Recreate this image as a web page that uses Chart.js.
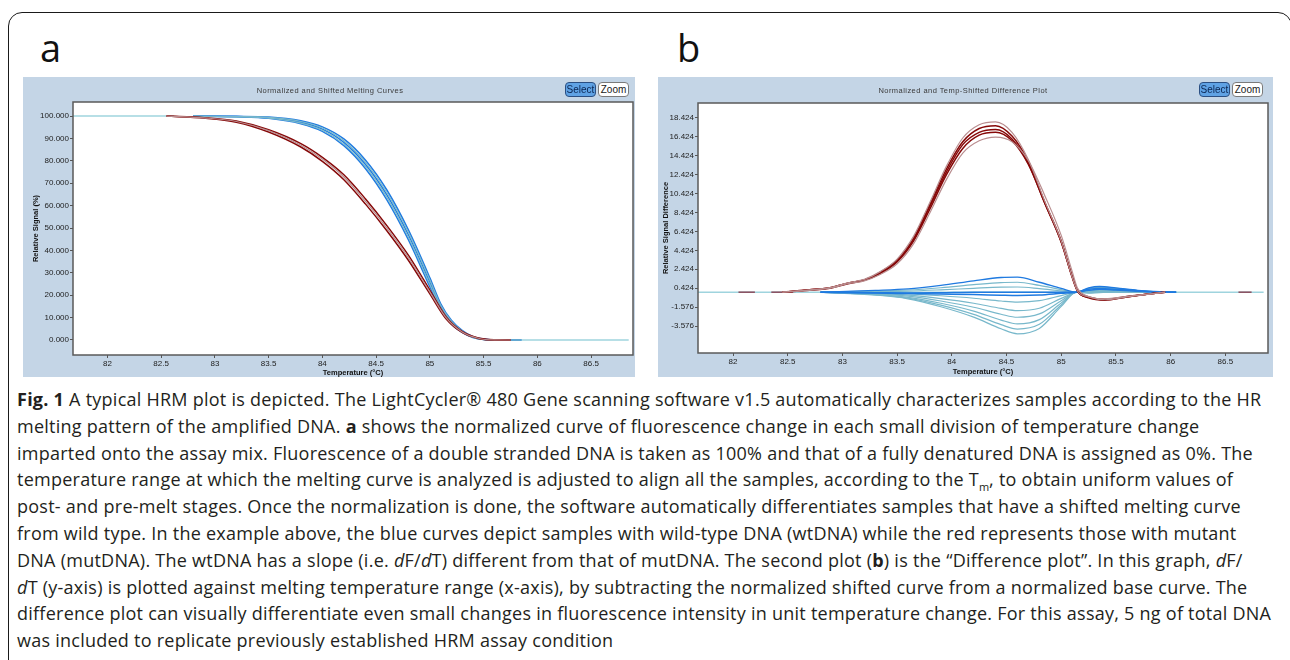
<!DOCTYPE html>
<html>
<head>
<meta charset="utf-8">
<title>HRM melting curves</title>
<script src="https://cdn.jsdelivr.net/npm/chart.js"></script>
<style>
  html, body { margin: 0; padding: 0; background: #fff; }
  body { width: 1290px; height: 660px; position: relative; overflow: hidden; font-family: "Open Sans", "Noto Sans", sans-serif; color: #231f20; }
  .frame { position: absolute; left: 8px; top: 12px; width: 1284px; height: 700px; box-sizing: border-box; border: 1.5px solid #1a1a1a; border-radius: 14px; }
  .letter { position: absolute; top: 28px; font-size: 38px; line-height: 38px; font-weight: 400; color: #111; }
  .panel { position: absolute; top: 77px; height: 300px; background: #c4d5e6; }
  .panel canvas { position: absolute; left: 0; top: 0; }
  .ptitle { position: absolute; top: 86px; font-family: "Liberation Sans", Arial, sans-serif; font-size: 7.5px; letter-spacing: 0.45px; color: #3a3a3a; white-space: nowrap; transform: translateX(-50%); }
  .btn { position: absolute; top: 82px; height: 15px; width: 31px; box-sizing: border-box; border-radius: 4px; font-family: "Liberation Sans", Arial, sans-serif; font-size: 10px; line-height: 13px; text-align: center; }
  .btn.sel { background: #5fa2e4; border: 1px solid #2b4f82; color: #0b2652; }
  .btn.zm { background: #fff; border: 1px solid #7a7a7a; color: #1a1a1a; }
  .caption { position: absolute; left: 17px; top: 386px; font-size: 18px; letter-spacing: 0.25px; line-height: 26.8px; white-space: nowrap; }
  .caption i { font-style: italic; }
  .caption sub { font-size: 11px; line-height: 0; letter-spacing: 0; }
</style>
</head>
<body>
<div class="frame"></div>

<div class="letter" style="left:40px">a</div>
<div class="letter" style="left:677px">b</div>

<div class="panel" style="left:23px; width:612px;"><canvas id="meltChart" width="612" height="300"></canvas></div>
<div class="ptitle" style="left:330px">Normalized and Shifted Melting Curves</div>
<div class="btn sel" style="left:565px">Select</div>
<div class="btn zm" style="left:598px">Zoom</div>

<div class="panel" style="left:658px; width:615px;"><canvas id="diffChart" width="615" height="300"></canvas></div>
<div class="ptitle" style="left:963px">Normalized and Temp-Shifted Difference Plot</div>
<div class="btn sel" style="left:1199px">Select</div>
<div class="btn zm" style="left:1232px">Zoom</div>

<div class="caption">
  <div><b>Fig. 1</b> A typical HRM plot is depicted. The LightCycler® 480 Gene scanning software v1.5 automatically characterizes samples according to the HR</div>
  <div>melting pattern of the amplified DNA. <b>a</b> shows the normalized curve of fluorescence change in each small division of temperature change</div>
  <div>imparted onto the assay mix. Fluorescence of a double stranded DNA is taken as 100% and that of a fully denatured DNA is assigned as 0%. The</div>
  <div>temperature range at which the melting curve is analyzed is adjusted to align all the samples, according to the T<sub>m</sub>, to obtain uniform values of</div>
  <div>post- and pre-melt stages. Once the normalization is done, the software automatically differentiates samples that have a shifted melting curve</div>
  <div>from wild type. In the example above, the blue curves depict samples with wild-type DNA (wtDNA) while the red represents those with mutant</div>
  <div>DNA (mutDNA). The wtDNA has a slope (i.e. <i>d</i>F/<i>d</i>T) different from that of mutDNA. The second plot (<b>b</b>) is the “Difference plot”. In this graph, <i>d</i>F/</div>
  <div><i>d</i>T (y-axis) is plotted against melting temperature range (x-axis), by subtracting the normalized shifted curve from a normalized base curve. The</div>
  <div>difference plot can visually differentiate even small changes in fluorescence intensity in unit temperature change. For this assay, 5 ng of total DNA</div>
  <div>was included to replicate previously established HRM assay condition</div>
</div>

<script>
// axis ticks
const tempTicks = [82, 82.5, 83, 83.5, 84, 84.5, 85, 85.5, 86, 86.5];
const signalTicks = [0, 10, 20, 30, 40, 50, 60, 70, 80, 90, 100];
const diffTicks = [-3.576, -1.576, 0.424, 2.424, 4.424, 6.424, 8.424, 10.424, 12.424, 14.424, 16.424, 18.424];

// --- normalized melting curves (relative signal, %) ---
const meltTempRed = [82.55, 82.9, 83.2, 83.5, 83.8, 84.0, 84.2, 84.4, 84.6, 84.8, 85.0, 85.15, 85.3, 85.45, 85.6, 85.75];
const meltRed1 = [100, 99.1, 97.3, 92.9, 86.2, 79.8, 71.6, 60.8, 48.8, 35.6, 20.6, 9.5, 3.4, 0.7, 0, 0];
const meltRed2 = [100, 99.3, 97.8, 93.9, 87.7, 81.6, 73.8, 63.1, 51.1, 37.9, 22.3, 10.4, 3.8, 0.9, 0.1, 0];
const meltRed3 = [100, 99.2, 97.6, 93.5, 87.0, 80.8, 72.8, 62.0, 50.0, 36.8, 21.5, 10.0, 3.6, 0.8, 0.05, 0];

const meltTempBlue = [82.8, 83.2, 83.5, 83.8, 84.0, 84.2, 84.4, 84.6, 84.8, 85.0, 85.1, 85.2, 85.3, 85.4, 85.5, 85.65, 85.85];
const meltBlue1 = [100, 99.7, 99.0, 96.6, 93.2, 86.8, 76.6, 62.6, 44.8, 23.8, 13.6, 7.2, 3.4, 1.1, 0.2, 0, 0];
const meltBlue2 = [100, 99.8, 99.3, 97.3, 94.2, 88.3, 78.5, 64.8, 47.0, 25.8, 15.0, 8.0, 3.8, 1.3, 0.3, 0, 0];
const meltBlue3 = [100, 99.9, 99.6, 97.9, 95.2, 89.8, 80.4, 67.0, 49.2, 27.8, 16.3, 8.8, 4.3, 1.5, 0.4, 0, 0];
const meltBlue4 = [100, 99.8, 99.4, 97.6, 94.7, 89.0, 79.4, 65.9, 48.1, 26.8, 15.6, 8.4, 4.0, 1.4, 0.3, 0, 0];
const meltBlue5 = [100, 99.7, 99.1, 96.9, 93.7, 87.5, 77.5, 63.7, 45.9, 24.8, 14.3, 7.6, 3.6, 1.2, 0.2, 0, 0];

const meltBaseHighT = [81.68, 82.62];
const meltBaseHigh = [100, 100];
const meltBaseLowT = [85.6, 86.85];
const meltBaseLow = [0, 0];

// --- difference plot (relative signal difference) ---
const diffTempRed = [82.45, 82.7, 82.9, 83.05, 83.2, 83.35, 83.5, 83.65, 83.8, 83.95, 84.1, 84.25, 84.4, 84.55, 84.7, 84.85, 85.0, 85.1, 85.15, 85.25, 85.4, 85.6, 85.8, 85.95];
const diffRed1 = [0, 0.25, 0.5, 1.0, 1.35, 2.2, 3.5, 5.9, 9.5, 13.3, 16.3, 17.7, 18.0, 16.9, 14.0, 9.6, 5.4, 1.6, 0.1, -0.5, -0.8, -0.5, -0.2, 0];
const diffRed2 = [0, 0.25, 0.5, 0.95, 1.3, 2.15, 3.4, 5.7, 9.3, 13.0, 15.9, 17.3, 17.6, 16.5, 13.8, 9.5, 5.4, 1.6, 0.1, -0.55, -0.8, -0.5, -0.2, 0];
const diffRed3 = [0, 0.25, 0.5, 0.95, 1.3, 2.1, 3.3, 5.6, 9.1, 12.7, 15.6, 16.9, 17.2, 16.2, 13.6, 9.4, 5.3, 1.6, 0.1, -0.5, -0.75, -0.45, -0.2, 0];
const diffRed4 = [0, 0.2, 0.45, 0.9, 1.25, 2.0, 3.2, 5.4, 8.8, 12.4, 15.2, 16.6, 16.9, 16.0, 13.5, 9.4, 5.3, 1.7, 0.15, -0.6, -0.85, -0.5, -0.2, 0];
const diffRed5 = [0, 0.2, 0.45, 0.9, 1.2, 1.9, 3.0, 5.1, 8.4, 11.9, 14.7, 16.0, 16.4, 15.9, 13.9, 10.2, 6.0, 2.2, 0.4, -0.45, -0.7, -0.45, -0.2, 0];

const diffTempBlue = [82.8, 83.3, 83.6, 83.9, 84.2, 84.45, 84.6, 84.8, 85.0, 85.14, 85.25, 85.35, 85.5, 85.7, 85.9, 86.05];
const diffBlue1 = [0, 0.19, 0.35, 0.72, 1.2, 1.55, 1.6, 1.05, 0.4, 0, 0.45, 0.6, 0.45, 0.2, 0.05, 0];
const diffBlue2 = [0, 0.13, 0.23, 0.47, 0.79, 1.02, 1.05, 0.72, 0.27, 0, 0.4, 0.55, 0.4, 0.18, 0.05, 0];
const diffBlue3 = [0, 0.07, 0.12, 0.25, 0.41, 0.53, 0.55, 0.38, 0.14, 0, 0.35, 0.5, 0.38, 0.15, 0.04, 0];
const diffBlue4 = [0, -0.05, -0.08, -0.05, 0, 0, 0, 0, 0, 0, 0.3, 0.4, 0.3, 0.12, 0.03, 0];
const diffBlue5 = [0, -0.1, -0.15, -0.2, -0.25, -0.32, -0.35, -0.3, -0.12, 0, 0.2, 0.3, 0.22, 0.1, 0.02, 0];
const diffBlue6 = [0, -0.1, -0.18, -0.38, -0.64, -0.93, -1.05, -0.9, -0.36, 0, 0.15, 0.22, 0.18, 0.08, 0.02, 0];
const diffBlue7 = [0, -0.14, -0.31, -0.68, -1.17, -1.72, -1.95, -1.7, -0.66, 0, 0.1, 0.15, 0.12, 0.05, 0.01, 0];
const diffBlue8 = [0, -0.19, -0.42, -0.93, -1.59, -2.33, -2.65, -2.3, -0.9, 0, 0.05, 0.1, 0.08, 0.04, 0, 0];
const diffBlue9 = [0, -0.23, -0.54, -1.17, -2.0, -2.95, -3.35, -2.9, -1.15, 0, 0, 0.05, 0.05, 0.02, 0, 0];
const diffBlue10 = [0, -0.27, -0.62, -1.36, -2.34, -3.43, -3.9, -3.4, -1.35, 0, -0.05, 0, 0.02, 0.01, 0, 0];
const diffBlue11 = [0, -0.31, -0.7, -1.54, -2.64, -3.87, -4.4, -3.83, -1.5, 0, -0.1, -0.05, 0, 0, 0, 0];

const diffBaseT = [81.68, 86.85];
const diffBase = [0, 0];
// short sample stubs lying on the base line
const stubT1 = [82.05, 82.2];
const stubT2 = [82.35, 82.55];
const stubT3 = [86.62, 86.74];
const stubY = [0, 0];

const DARK_RED = '#860808';
const ROSE = '#b98d8f';
const BLUE = '#1f7ae0';
const TEAL = '#78b8cb';
const CYAN = '#9fd4de';
const tickFont = { family: '"Liberation Sans", Arial, sans-serif', size: 8 };
const titleFont = { family: '"Liberation Sans", Arial, sans-serif', size: 7.5, weight: 'bold' };

function pts(xs, ys) {
  return xs.map((x, i) => ({ x: x, y: ys[i] }));
}

function curve(xs, ys, color, width) {
  return {
    data: pts(xs, ys),
    borderColor: color,
    borderWidth: width || 1.3,
    pointRadius: 0,
    fill: false,
    cubicInterpolationMode: 'monotone',
  };
}

// white plot area and the dark frame round it
const plotFrame = {
  id: 'plotFrame',
  beforeDraw(chart) {
    const { ctx, chartArea: a } = chart;
    ctx.save();
    ctx.fillStyle = '#fff';
    ctx.fillRect(a.left, a.top, a.right - a.left, a.bottom - a.top);
    ctx.restore();
  },
  afterDraw(chart) {
    const { ctx, chartArea: a } = chart;
    ctx.save();
    ctx.strokeStyle = '#5a5a5a';
    ctx.lineWidth = 1.5;
    ctx.strokeRect(a.left, a.top, a.right - a.left, a.bottom - a.top);
    ctx.restore();
  },
};

function makeOptions(o) {
  return {
    responsive: false,
    animation: false,
    devicePixelRatio: 1,
    layout: { padding: { top: o.padTop, right: o.padRight, left: 0, bottom: 0 } },
    plugins: { legend: { display: false }, tooltip: { enabled: false } },
    scales: {
      x: {
        type: 'linear',
        min: 81.68,
        max: 86.89,
        afterFit: (s) => { s.height = o.xHeight; },
        afterBuildTicks: (s) => { s.ticks = tempTicks.map((v) => ({ value: v })); },
        grid: { drawOnChartArea: false, tickLength: 3, color: '#555' },
        border: { display: false },
        ticks: { font: tickFont, color: '#222', padding: 1, maxRotation: 0, autoSkip: false,
                 callback: (v) => String(v) },
        title: { display: true, text: 'Temperature (°C)', font: titleFont, color: '#111', padding: { top: 0, bottom: o.xTitlePad } },
      },
      y: {
        type: 'linear',
        min: o.yMin,
        max: o.yMax,
        afterFit: (s) => { s.width = o.yWidth; },
        afterBuildTicks: (s) => { s.ticks = o.yTicks.map((v) => ({ value: v })); },
        grid: { drawOnChartArea: false, tickLength: 3, color: '#555' },
        border: { display: false },
        ticks: { font: tickFont, color: '#222', padding: 1, autoSkip: false,
                 callback: (v) => v.toFixed(3) },
        title: { display: true, text: o.yTitle, font: titleFont, color: '#111', padding: { top: o.yTitlePad, bottom: 0 } },
      },
    },
  };
}

new Chart(document.getElementById('meltChart'), {
  type: 'line',
  data: {
    datasets: [
      curve(meltTempRed, meltRed3, ROSE, 1.2),
      curve(meltTempRed, meltRed1, DARK_RED, 1.5),
      curve(meltTempRed, meltRed2, DARK_RED, 1.5),
      curve(meltTempBlue, meltBlue4, TEAL, 1.2),
      curve(meltTempBlue, meltBlue5, TEAL, 1.2),
      curve(meltTempBlue, meltBlue1, BLUE, 1.5),
      curve(meltTempBlue, meltBlue2, BLUE, 1.5),
      curve(meltTempBlue, meltBlue3, BLUE, 1.5),
      curve(meltBaseHighT, meltBaseHigh, CYAN, 1.5),
      curve(meltBaseLowT, meltBaseLow, CYAN, 1.5),
    ],
  },
  options: makeOptions({
    padTop: 25, padRight: 2, xHeight: 22, yWidth: 50, xTitlePad: 0, yTitlePad: 8,
    yMin: -6.7, yMax: 106.3, yTicks: signalTicks, yTitle: 'Relative Signal (%)',
  }),
  plugins: [plotFrame],
});

new Chart(document.getElementById('diffChart'), {
  type: 'line',
  data: {
    datasets: [
      curve(diffTempRed, diffRed1, ROSE, 1.2),
      curve(diffTempRed, diffRed5, ROSE, 1.2),
      curve(diffTempRed, diffRed2, DARK_RED, 1.5),
      curve(diffTempRed, diffRed3, DARK_RED, 1.5),
      curve(diffTempRed, diffRed4, DARK_RED, 1.5),
      curve(diffTempBlue, diffBlue1, BLUE, 1.3),
      curve(diffTempBlue, diffBlue4, BLUE, 1.5),
      curve(diffTempBlue, diffBlue5, BLUE, 1.5),
      curve(diffTempBlue, diffBlue2, TEAL, 1.2),
      curve(diffTempBlue, diffBlue3, TEAL, 1.2),
      curve(diffTempBlue, diffBlue6, TEAL, 1.2),
      curve(diffTempBlue, diffBlue7, TEAL, 1.2),
      curve(diffTempBlue, diffBlue8, TEAL, 1.2),
      curve(diffTempBlue, diffBlue9, TEAL, 1.2),
      curve(diffTempBlue, diffBlue10, TEAL, 1.2),
      curve(diffTempBlue, diffBlue11, TEAL, 1.2),
      curve(stubT1, stubY, '#8a4a5a', 1.5),
      curve(stubT2, stubY, '#8a4a5a', 1.5),
      curve(stubT3, stubY, '#8a4a5a', 1.5),
      curve(diffBaseT, diffBase, CYAN, 1.5),
    ],
  },
  options: makeOptions({
    padTop: 26, padRight: 5, xHeight: 24, yWidth: 40, xTitlePad: 1, yTitlePad: 3,
    yMin: -6.43, yMax: 20.0, yTicks: diffTicks, yTitle: 'Relative Signal Difference',
  }),
  plugins: [plotFrame],
});
</script>
</body>
</html>
